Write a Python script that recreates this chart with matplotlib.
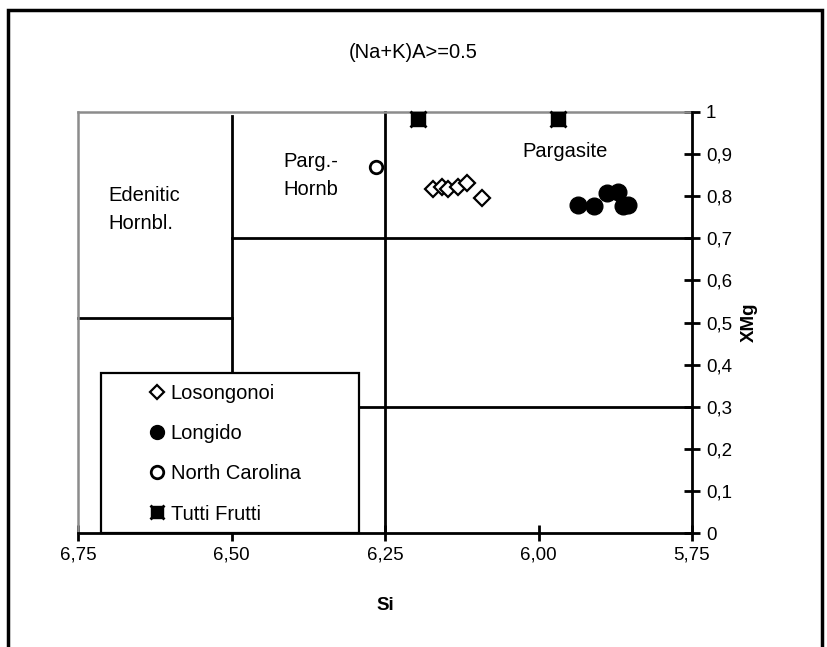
import matplotlib
matplotlib.use("Agg")
import matplotlib.pyplot as plt
from matplotlib.patches import Rectangle
from matplotlib.lines import Line2D

plt.rcParams['font.family'] = ['Liberation Sans', 'DejaVu Sans']

# data
loso_si = [6.172, 6.157, 6.147, 6.131, 6.116, 6.092]
loso_xmg = [0.817, 0.822, 0.817, 0.822, 0.831, 0.796]

longido_si = [5.936, 5.909, 5.888, 5.870, 5.862, 5.855]
longido_xmg = [0.780, 0.777, 0.808, 0.810, 0.776, 0.778]

nc_si = [6.265]
nc_xmg = [0.869]

tutti_si = [6.196, 5.968]
tutti_xmg = [0.983, 0.983]

# classification boundaries (x pair, y pair)
bound_x = [[6.5, 6.5], [6.25, 6.25], [6.5, 5.75], [6.75, 6.5], [6.3, 5.75]]
bound_y = [[0, 0.99], [0, 1.0], [0.7, 0.7], [0.51, 0.51], [0.3, 0.3]]

field_names = ["Edenitic\nHornbl.", "Parg.-\nHornb", "Pargasite"]
field_x = [6.70, 6.416, 6.027]
field_y = [0.768, 0.85, 0.905]

xticks = [6.75, 6.5, 6.25, 6.0, 5.75]
yticks = [0, 0.1, 0.2, 0.3, 0.4, 0.5, 0.6, 0.7, 0.8, 0.9, 1.0]

fig = plt.figure(figsize=(8.27, 6.47), dpi=100)
ax = fig.add_axes([78/827, 1 - 533/647, (692-78)/827, (533-112)/647])

for bx, by in zip(bound_x, bound_y):
    ax.plot(bx, by, color="black", lw=2, zorder=2, clip_on=False)

for name, fx, fy in zip(field_names, field_x, field_y):
    ax.text(fx, fy, name, fontsize=14.5, ha="left", va="center", linespacing=1.6)

ax.plot(loso_si, loso_xmg, ls="none", marker="D", ms=8, mfc="white",
        mec="black", mew=1.6, zorder=4)
ax.plot(longido_si, longido_xmg, ls="none", marker="o", ms=12, mfc="black",
        mec="black", zorder=4)
ax.plot(nc_si, nc_xmg, ls="none", marker="o", ms=9, mfc="white",
        mec="black", mew=2, zorder=4)
ax.plot(tutti_si, tutti_xmg, ls="none", marker="s", ms=10.5, mfc="black",
        mec="black", zorder=4, clip_on=False)
ax.plot(tutti_si, tutti_xmg, ls="none", marker="x", ms=12, mec="black",
        mew=2, zorder=4, clip_on=False)

ax.set_xlim(6.75, 5.75)
ax.set_ylim(0, 1)
ax.set_xticks(xticks)
ax.set_xticklabels([("%.2f" % v).replace(".", ",") for v in xticks])
ax.set_yticks(yticks)
ax.set_yticklabels([("%g" % v).replace(".", ",") for v in yticks])
ax.yaxis.tick_right()
ax.yaxis.set_label_position("right")
ax.tick_params(axis="both", direction="inout", length=12, width=2,
               labelsize=13.5, pad=4)

for s in ["left", "top"]:
    ax.spines[s].set_color("#8c8c8c")
    ax.spines[s].set_linewidth(1.8)
for s in ["right", "bottom"]:
    ax.spines[s].set_color("black")
    ax.spines[s].set_linewidth(2)
    ax.spines[s].set_zorder(6)

ax.set_xlabel("Si", fontsize=13.5, fontweight="bold", labelpad=24)
ax.set_ylabel("XMg", fontsize=13.5, fontweight="bold", labelpad=6)

# legend box
ax.add_patch(Rectangle((0.037, 0), 0.421, 0.38, transform=ax.transAxes,
                       facecolor="white", edgecolor="black", lw=1.6,
                       zorder=5, clip_on=False))
h_loso = Line2D([], [], ls="none", marker="D", ms=7, mfc="white", mec="black", mew=1.6)
h_long = Line2D([], [], ls="none", marker="o", ms=10, mfc="black", mec="black")
h_nc = Line2D([], [], ls="none", marker="o", ms=9, mfc="white", mec="black", mew=2)
h_tf1 = Line2D([], [], ls="none", marker="s", ms=9, mfc="black", mec="black")
h_tf2 = Line2D([], [], ls="none", marker="x", ms=10, mec="black", mew=2)
leg = ax.legend([h_loso, h_long, h_nc, (h_tf1, h_tf2)],
                ["Losongonoi", "Longido", "North Carolina", "Tutti Frutti"],
                loc="upper left", bbox_to_anchor=(0.1, 0.38), frameon=False,
                fontsize=14.5, handlelength=0.6, handletextpad=0.4,
                labelspacing=1.05, borderaxespad=0.15)
leg.set_zorder(7)

fig.text(0.5, 1 - 52/647, "(Na+K)A>=0.5", ha="center", va="center",
         fontsize=14.5, family=["Liberation Sans Narrow", "Liberation Sans", "DejaVu Sans"])

fig.patches.append(Rectangle((8/827, -0.05), (822-8)/827, 1.05 - 10/647,
                             transform=fig.transFigure, fill=False,
                             edgecolor="black", lw=2.5))

fig.savefig("out.png", dpi=100)
